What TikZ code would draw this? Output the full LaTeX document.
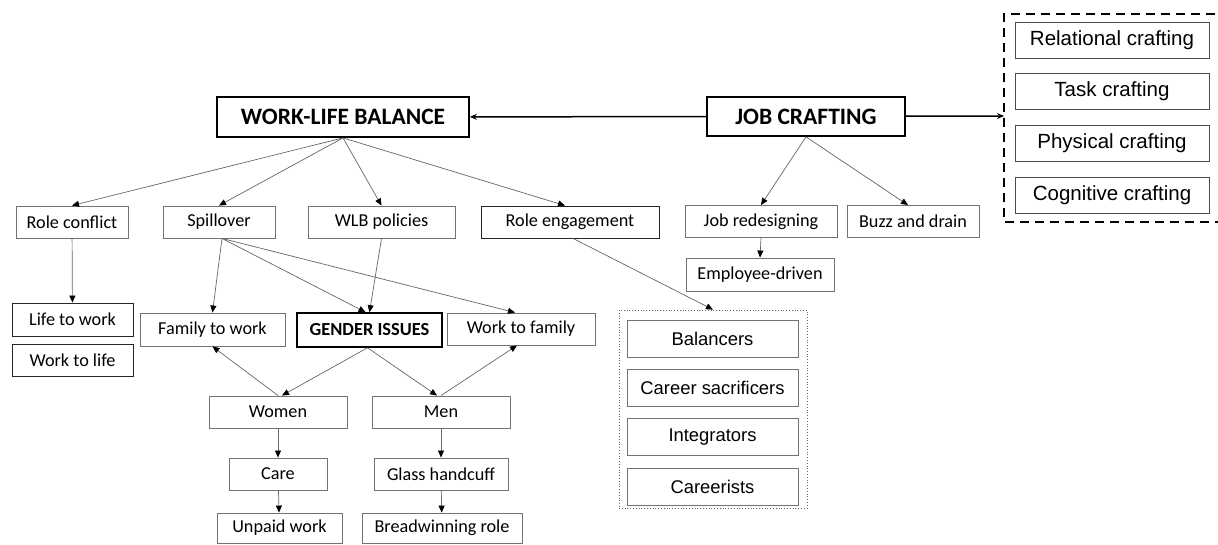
\documentclass[tikz,border=0pt]{standalone}
\usepackage{fontspec}
\setmainfont{Carlito}
\newfontfamily\arialfont{Liberation Sans}
\usetikzlibrary{arrows.meta}

\tikzset{
  box/.style={draw=black!55,line width=0.9pt,inner sep=0pt,
    font=\fontsize{18.2}{18}\selectfont},
  bigbox/.style={draw=black,line width=1.8pt,inner sep=0pt,
    font=\bfseries\fontsize{23.5}{23}\selectfont},
  sidebox/.style={draw=black!70,line width=0.9pt,inner sep=0pt,
    minimum width=194pt,minimum height=36pt,
    font=\arialfont\fontsize{20.5}{20}\selectfont},
  groupbox/.style={draw=black!55,line width=0.9pt,inner sep=0pt,
    minimum width=171pt,minimum height=37pt,
    font=\arialfont\fontsize{18.4}{18}\selectfont},
  link/.style={draw=black!60,line width=0.7pt,
    -{Triangle[length=7pt,width=6pt,color=black]}},
  mainlink/.style={draw=black,line width=1.5pt,
    -{Stealth[length=7pt,width=6pt]}}
}

\begin{document}
\begin{tikzpicture}[x=1pt,y=-1pt]

        \fill[white] (0,0) rectangle (1218,545);
        \useasboundingbox (0,0) rectangle (1218,545);

        % main topics
        \node[bigbox,minimum width=252pt,minimum height=40pt] (wlb) at (343,117) {WORK-LIFE BALANCE};
        \node[bigbox,minimum width=198pt,minimum height=39pt] (jc)  at (806,116.5) {JOB CRAFTING};

        % crafting types
        \draw[line width=2.4pt,dash pattern=on 9pt off 6pt] (1230,14) -- (1004,14) -- (1004,222) -- (1230,222);
        \coordinate (frame) at (1004,116);
        \begin{scope}[every node/.style={sidebox}]
          \node (rel)  at (1112,40)    {Relational crafting};
          \node (task) at (1112,91.5)  {Task crafting};
          \node (phys) at (1112,143.5) {Physical crafting};
          \node (cog)  at (1112,195.5) {Cognitive crafting};
        \end{scope}

        % second row
        \begin{scope}[every node/.style={box,minimum height=32pt}]
          \node[minimum width=112pt] (rolec)  at (72,222)    {Role conflict};
          \node[minimum width=112pt] (spill)  at (219,222)   {Spillover};
          \node[minimum width=147pt] (wlbp)   at (381.5,222) {WLB policies};
          \node[minimum width=178pt,draw=black!85] (roleng) at (570,222) {Role engagement};
          \node[minimum width=152pt] (jobr)   at (761,221.5) {Job redesigning};
          \node[minimum width=132pt] (buzz)   at (913,221.5) {Buzz and drain};
          \node[minimum width=148pt,minimum height=33pt] (empd) at (760,274.5) {Employee-driven};
          \node[minimum width=121pt,minimum height=33pt,draw=black!85] (lifew) at (72.5,319.5) {Life to work};
          \node[minimum width=121pt,draw=black!85] (workl)  at (72.5,360)  {Work to life};
          \node[minimum width=145pt,minimum height=33pt] (famw) at (212.5,329.5) {Family to work};
          \node[minimum width=148pt] (workf)  at (521,329)   {Work to family};
          \node[minimum width=138pt] (women)  at (278,412)   {Women};
          \node[minimum width=138pt] (men)    at (441,412)   {Men};
          \node[minimum width=98pt]  (care)   at (278,474)   {Care};
          \node[minimum width=134pt] (glass)  at (441,474)   {Glass handcuff};
          \node[minimum width=125pt,minimum height=30pt] (unpaid) at (279.5,528) {Unpaid work};
          \node[minimum width=160pt,minimum height=30pt] (bread)  at (442,528)   {Breadwinning role};
        \end{scope}
        \node[box,draw=black,line width=1.6pt,minimum width=145pt,minimum height=34pt,
          font=\bfseries\fontsize{18.4}{18}\selectfont] (gend) at (369.5,330) {GENDER ISSUES};

        % balance profiles
        \node[draw=black!60,line width=0.8pt,dotted,minimum width=188pt,minimum height=198pt,inner sep=0pt]
          (profiles) at (713,409) {};
        \begin{scope}[every node/.style={groupbox}]
          \node (bal)   at (712.5,338.5) {Balancers};
          \node (cars)  at (712.5,388)   {Career sacrificers};
          \node (integ) at (712.5,437)   {Integrators};
          \node (crist) at (712.5,486.5) {Careerists};
        \end{scope}

        % connections
        \path[mainlink] (jc) edge (wlb);
        \path[mainlink] (jc) edge (frame);

        \begin{scope}[every edge/.style={link}]
          \path (wlb.south)  edge (rolec.north);
          \path (wlb.south)  edge (spill.north);
          \path (wlb.south)  edge (wlbp.north);
          \path (wlb.south)  edge ([xshift=-5pt]roleng.north);
          \path (jc.south)   edge (jobr.north);
          \path (jc.south)   edge ([xshift=-5pt]buzz.north);
          \path (jobr.south) edge (empd.north);
          \path (rolec)      edge (lifew);
          \path ([xshift=3pt]spill.south) edge (famw.north);
          \path ([xshift=3pt]spill.south) edge ([xshift=-4pt]gend.north);
          \path ([xshift=3pt]spill.south) edge ([xshift=-6pt]workf.north);
          \path (wlbp.south) edge (gend.north);
          \path ([xshift=3pt]roleng.south) edge (profiles.north);
          \path ([xshift=-2pt]gend.south) edge ([xshift=4pt]women.north);
          \path ([xshift=-2pt]gend.south) edge ([xshift=-4pt]men.north);
          \path (women.north) edge (famw.south);
          \path (men.north)   edge ([xshift=-4pt]workf.south);
          \path (women)  edge (care);
          \path (care)   edge (unpaid);
          \path (men)    edge (glass);
          \path (glass)  edge (bread);
        \end{scope}

      \end{tikzpicture}
\end{document}
